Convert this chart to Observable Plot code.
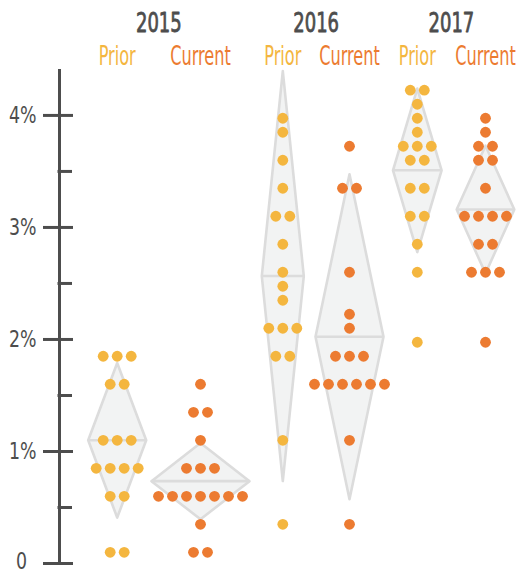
<!DOCTYPE html>
<html><head><meta charset="utf-8">
<script src="https://cdn.jsdelivr.net/npm/d3@7"></script>
<script src="https://cdn.jsdelivr.net/npm/@observablehq/plot@0.6"></script>
<style>body{margin:0;background:#fff} #chart{width:516px;height:574px}</style>
</head><body><div id="chart"></div>
<script>
// ---------- data ----------
const years = ["2015", "2016", "2017"];
const kinds = ["Prior", "Current"];
const groups = ["2015 Prior", "2015 Current", "2016 Prior", "2016 Current", "2017 Prior", "2017 Current"];

const values2015Prior   = [1.85,1.85,1.85, 1.6,1.6, 1.1,1.1,1.1, 0.85,0.85,0.85,0.85, 0.6,0.6, 0.1,0.1];
const values2015Current = [1.6, 1.35,1.35, 1.1, 0.85,0.85,0.85, 0.6,0.6,0.6,0.6,0.6,0.6,0.6, 0.35, 0.1,0.1];
const values2016Prior   = [3.975, 3.85, 3.6, 3.35, 3.1,3.1, 2.85, 2.6, 2.475, 2.35, 2.1,2.1,2.1, 1.85,1.85, 1.1, 0.35];
const values2016Current = [3.725, 3.35,3.35, 2.6, 2.225, 2.1, 1.85,1.85,1.85, 1.6,1.6,1.6,1.6,1.6,1.6, 1.1, 0.35];
const values2017Prior   = [4.225,4.225, 4.1, 3.975, 3.85, 3.725,3.725,3.725, 3.6,3.6, 3.35,3.35, 3.1,3.1, 2.85, 2.6, 1.975];
const values2017Current = [3.975, 3.85, 3.725,3.725, 3.6,3.6, 3.35, 3.1,3.1,3.1,3.1, 2.85,2.85, 2.6,2.6,2.6, 1.975];
const groupValues = [values2015Prior, values2015Current, values2016Prior, values2016Current, values2017Prior, values2017Current];

// diamond statistics (mean and half-height of interval), percent
const means      = [1.10, 0.735, 2.566, 2.024, 3.51, 3.16];
const halfRanges = [0.69, 0.34, 1.83, 1.45, 0.73, 0.57];

const yTicks = [0, 1, 2, 3, 4];
const yMinorTicks = [0.5, 1.5, 2.5, 3.5];

// ---------- layout / style ----------
const W = 516, H = 574;
const groupCenter = [116.7, 200, 282.3, 349, 416.8, 485];
const diamondHalfWidth = [29, 49, 21, 34, 24.3, 28.8];
const dotStep = 14;
const axisX = 59;
const colors = {Prior: "#F4B63F", Current: "#EC7B31"};
const textGray = "#4d4d4d";
const font = "'DejaVu Sans Condensed', 'Liberation Sans Narrow', sans-serif";

// ---------- derived tables ----------
const dots = [];
groups.forEach((g, gi) => {
  const kind = g.split(" ")[1];
  const byVal = d3.group(groupValues[gi], v => v);
  for (const [v, arr] of byVal) {
    const n = arr.length;
    arr.forEach((_, i) => dots.push({g, kind, value: v, x: groupCenter[gi] + (i - (n - 1) / 2) * dotStep}));
  }
});

const diamondPts = [];
const meanLines = [];
groups.forEach((g, gi) => {
  const c = groupCenter[gi], w = diamondHalfWidth[gi], m = means[gi], h = halfRanges[gi];
  diamondPts.push({g, x: c, y: m + h}, {g, x: c + w, y: m}, {g, x: c, y: m - h}, {g, x: c - w, y: m});
  meanLines.push({g, x1: c - w, x2: c + w, y: m});
});

const groupLabels = groups.map((g, gi) => ({text: g.split(" ")[1], x: groupCenter[gi]}));
const yearLabels = years.map((y, i) => ({text: y, x: (groupCenter[2 * i] + groupCenter[2 * i + 1]) / 2}));

const chart = Plot.plot({
  width: W, height: H,
  marginLeft: 0, marginRight: 0, marginTop: 69, marginBottom: 11,
  x: {domain: [0, W], axis: null},
  y: {domain: [0, 4.41], axis: null},
  style: {fontFamily: font, background: "#fff", overflow: "visible"},
  marks: [
    Plot.line(diamondPts, {x: "x", y: "y", z: "g", curve: "linear-closed", fill: "#f2f3f3", stroke: "#dcdcdc", strokeWidth: 2.6}),
    Plot.link(meanLines, {x1: "x1", x2: "x2", y1: "y", y2: "y", stroke: "#dcdcdc", strokeWidth: 2.6}),
    Plot.dot(dots.filter(d => d.kind === "Prior"), {x: "x", y: "value", r: 5.4, fill: colors.Prior, stroke: null}),
    Plot.dot(dots.filter(d => d.kind === "Current"), {x: "x", y: "value", r: 5.4, fill: colors.Current, stroke: null}),
    Plot.ruleX([axisX], {y1: 0, y2: 4.41, stroke: textGray, strokeWidth: 3}),
    Plot.ruleY(yTicks, {y: d => d, x1: 43, x2: 73, stroke: textGray, strokeWidth: 3}),
    Plot.ruleY(yMinorTicks, {y: d => d, x1: 57.5, x2: 72, stroke: textGray, strokeWidth: 3}),
    Plot.text(yTicks.filter(d => d > 0), {y: d => d, x: 36, text: d => d + "%", textAnchor: "end", fill: textGray, fontSize: 23}),
    Plot.text([0], {y: d => d, x: 21, dy: -1.5, text: d => String(d), textAnchor: "middle", fill: textGray, fontSize: 23}),
    Plot.text(yearLabels, {x: "x", text: "text", frameAnchor: "top", lineAnchor: "bottom", dy: -38, fill: textGray, stroke: textGray, strokeWidth: 0.8, fontSize: 27}),
    Plot.text(groupLabels, {x: "x", text: "text", frameAnchor: "top", lineAnchor: "bottom", dy: -5, fill: d => colors[d.text], fontSize: 26})
  ]
});

// horizontally condense text to mimic the narrow typeface
const squeeze = [0.84, 0.84, 0.74, 0.69];
chart.querySelectorAll('g[aria-label="text"]').forEach((g, i) => {
  const s = squeeze[i] ?? 1;
  g.querySelectorAll("text").forEach(t => {
    const tr = t.getAttribute("transform") || "";
    t.setAttribute("transform", tr + ` scale(${s},1)`);
  });
});
document.getElementById("chart").appendChild(chart);
</script>
</body></html>
